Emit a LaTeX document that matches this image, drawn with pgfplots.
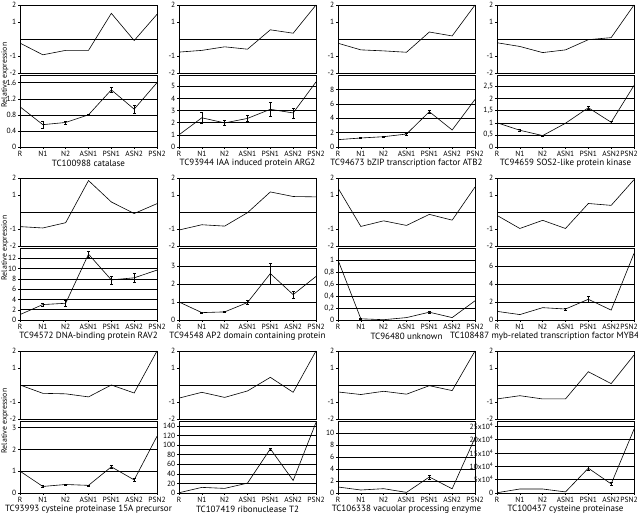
\documentclass[border=0pt]{standalone}
\usepackage{fontspec}
\setmainfont{PT Sans}
\usepackage{pgfplots}
\pgfplotsset{compat=1.18}
\pgfplotsset{
  base/.style={scale only axis, width=137pt, xmin=0, xmax=6, anchor=north west,
    axis line style={black, line width=0.5pt},
    tick style={black, line width=0.4pt}, tick align=outside, major tick length=2pt,
    ytick pos=left, xtick pos=bottom,
    every tick label/.append style={font=\fontsize{7.5}{8}\selectfont, inner sep=1.5pt},
    grid style={black, line width=0.45pt}},
  upper/.style={base, height=68pt, ymin=-2, ymax=2, ytick={-2,-1,1,2}, yticklabels={-2,-1,1,2},
    xtick=\empty, extra y ticks={0}, extra y tick labels={},
    extra y tick style={grid=major, major tick length=0pt}},
  lower/.style={base, height=72pt, ymin=0, xtick={0,...,6},
    xticklabels={R,N1,N2,ASN1,PSN1,ASN2,PSN2}, ymajorgrids,
    xlabel style={font=\fontsize{9}{10}\selectfont, at={(axis description cs:0.5,0)}, anchor=center, yshift=-16pt}},
  dataline/.style={black, line width=0.6pt, mark=none},
  errs/.style={draw=none, mark=none, forget plot, error bars/.cd, y dir=both, y explicit,
    error bar style={black, line width=0.5pt},
    error mark options={black, rotate=90, mark size=1.4pt, line width=0.5pt}},
  lastcol/.style={xticklabels={R,N1,N2,ASN1,PSN1,ASN2,\makebox[0pt]{\kern-10pt PSN2}}},
}
\newcommand{\panel}[7]{%
  \begin{axis}[upper, at={(#1pt,#2pt)}]
    \addplot[dataline] coordinates {#3};
  \end{axis}
  \begin{axis}[lower, at={(#1pt,#2pt-70pt)}, #6, xlabel={#7}]
    \addplot[dataline] coordinates {#4};
    \addplot[errs] coordinates {#5};
  \end{axis}}
\begin{document}
\begin{tikzpicture}
\path[use as bounding box] (0pt,0pt) rectangle (638pt,514pt);
% Row 1
\panel{20}{509}
 {(0,-0.24) (1,-0.93) (2,-0.67) (3,-0.67) (4,1.51) (5,-0.09) (6,1.45)}
 {(0,1.0) (1,0.555) (2,0.61) (3,0.80) (4,1.42) (5,0.94) (6,1.6)}
 {(1,0.555) +- (0,0.09) (2,0.61) +- (0,0.04) (3,0.80) +- (0,0.02) (4,1.42) +- (0,0.07) (5,0.94) +- (0,0.1)}
 {ymax=1.79, ytick={0,0.4,0.8,1.2,1.6}, yticklabels={0,0.4,0.8,1.2,1.6}}
 {TC100988 catalase}
\panel{179}{509}
 {(0,-0.77) (1,-0.67) (2,-0.46) (3,-0.6) (4,0.54) (5,0.34) (6,2.0)}
 {(0,1.0) (1,2.4) (2,1.98) (3,2.35) (4,3.1) (5,2.8) (6,5.35)}
 {(1,2.4) +- (0,0.45) (2,1.98) +- (0,0.2) (3,2.35) +- (0,0.25) (4,3.1) +- (0,0.6) (5,2.8) +- (0,0.4)}
 {ymax=5.92, ytick={0,1,2,3,4,5}, yticklabels={0,1,2,3,4,5}}
 {TC93944 IAA induced protein ARG2}
\panel{338}{509}
 {(0,-0.25) (1,-0.64) (2,-0.7) (3,-0.78) (4,0.41) (5,0.18) (6,2.0)}
 {(0,1.02) (1,1.25) (2,1.43) (3,1.8) (4,4.9) (5,2.36) (6,6.6)}
 {(1,1.25) +- (0,0.1) (2,1.43) +- (0,0.1) (3,1.8) +- (0,0.1) (4,4.9) +- (0,0.15)}
 {ymax=10, ytick={0,2,4,6,8}, yticklabels={0,2,4,6,8}}
 {TC94673 bZIP transcription factor ATB2}
\panel{497}{509}
 {(0,-0.22) (1,-0.44) (2,-0.8) (3,-0.64) (4,-0.04) (5,0.08) (6,2.0)}
 {(0,1.0) (1,0.69) (2,0.47) (3,0.98) (4,1.62) (5,1.02) (6,2.54)}
 {(1,0.69) +- (0,0.03) (2,0.47) +- (0,0.03) (3,0.98) +- (0,0.02) (4,1.62) +- (0,0.07) (5,1.02) +- (0,0.05)}
 {lastcol, ymax=2.97, ytick={0,0.5,1,1.5,2,2.5}, yticklabels={0,{0,5},1,{1,5},2,{2,5}}}
 {TC94659 SOS2-like protein kinase}
% Row 2
\panel{20}{336}
 {(0,-0.86) (1,-0.94) (2,-0.63) (3,1.85) (4,0.59) (5,-0.09) (6,0.49)}
 {(0,1.05) (1,3.0) (2,3.25) (3,12.8) (4,7.8) (5,8.2) (6,9.7)}
 {(1,3.0) +- (0,0.3) (2,3.25) +- (0,0.5) (3,12.8) +- (0,0.6) (4,7.8) +- (0,0.8) (5,8.2) +- (0,0.8)}
 {ymax=14, ytick={0,2,4,6,8,10,12}, yticklabels={0,2,4,6,8,10,12}}
 {TC94572 DNA-binding protein RAV2}
\panel{179}{336}
 {(0,-1.06) (1,-0.75) (2,-0.83) (3,-0.04) (4,1.18) (5,0.91) (6,0.89)}
 {(0,1.0) (1,0.41) (2,0.45) (3,0.97) (4,2.58) (5,1.41) (6,2.42)}
 {(1,0.41) +- (0,0.03) (2,0.45) +- (0,0.03) (3,0.97) +- (0,0.1) (4,2.58) +- (0,0.6) (5,1.41) +- (0,0.2)}
 {ymax=4, ytick={0,1,2,3}, yticklabels={0,1,2,3}}
 {TC94548 AP2 domain containing protein}
\panel{338}{336}
 {(0,1.41) (1,-0.85) (2,-0.52) (3,-0.79) (4,-0.14) (5,-0.48) (6,1.47)}
 {(0,1.0) (1,0.02) (2,0.005) (3,0.04) (4,0.13) (5,0.04) (6,0.32)}
 {(1,0.02) +- (0,0.01) (4,0.13) +- (0,0.02)}
 {ymax=1.2, ytick={0,0.2,0.4,0.6,0.8,1}, yticklabels={0,{0,2},{0,4},{0,6},{0,8},1}}
 {TC96480 unknown}
\panel{497}{336}
 {(0,-0.2) (1,-0.97) (2,-0.49) (3,-0.97) (4,0.5) (5,0.39) (6,1.9)}
 {(0,0.96) (1,0.6) (2,1.37) (3,1.22) (4,2.3) (5,1.1) (6,7.4)}
 {(3,1.22) +- (0,0.1) (4,2.3) +- (0,0.3)}
 {lastcol, ymax=8, ytick={0,2,4,6}, yticklabels={0,2,4,6}, xlabel style={xshift=-21pt}}
 {TC108487 myb-related transcription factor MYB4}
% Row 3
\panel{20}{163}
 {(0,0.0) (1,-0.49) (2,-0.52) (3,-0.7) (4,0.0) (5,-0.47) (6,2.0)}
 {(0,1.0) (1,0.3) (2,0.39) (3,0.35) (4,1.2) (5,0.6) (6,2.6)}
 {(1,0.3) +- (0,0.04) (2,0.39) +- (0,0.03) (3,0.35) +- (0,0.02) (4,1.2) +- (0,0.08) (5,0.6) +- (0,0.08)}
 {ymax=3.3, ytick={0,1,2,3}, yticklabels={0,1,2,3}}
 {TC93993 cysteine proteinase 15A precursor}
\panel{179}{163}
 {(0,-0.77) (1,-0.43) (2,-0.73) (3,-0.35) (4,0.45) (5,-0.43) (6,2.0)}
 {(0,0.5) (1,11.7) (2,9.6) (3,20.6) (4,92) (5,26) (6,147)}
 {(4,92) +- (0,2)}
 {ymax=150, ytick={0,20,40,60,80,100,120,140}, yticklabels={0,20,40,60,80,100,120,140}}
 {TC107419 ribonuclease T2}
\panel{338}{163}
 {(0,-0.41) (1,-0.56) (2,-0.37) (3,-0.54) (4,-0.04) (5,-0.33) (6,2.0)}
 {(0,1.0) (1,0.5) (2,0.72) (3,0.1) (4,2.67) (5,0.7) (6,9.2)}
 {(4,2.67) +- (0,0.3)}
 {ymax=12, ytick={0,2,4,6,8,10}, yticklabels={0,2,4,6,8,10}}
 {TC106338 vacuolar processing enzyme}
\panel{497}{163}
 {(0,-0.82) (1,-0.63) (2,-0.82) (3,-0.82) (4,0.78) (5,0.08) (6,1.76)}
 {(0,0.1) (1,1.5) (2,1.5) (3,0.4) (4,9.3) (5,3.4) (6,23.9)}
 {(4,9.3) +- (0,0.8) (5,3.4) +- (0,0.5)}
 {lastcol, ymax=27, ytick={0,5,10,15,20,25}, yticklabels={0,5x10\textsuperscript{4},10x10\textsuperscript{4},15x10\textsuperscript{4},20x10\textsuperscript{4},25x10\textsuperscript{4}}}
 {TC100437 cysteine proteinase}
% y labels
\foreach \yy in {439,266,93} {
  \node[rotate=90, font=\fontsize{7.8}{9}\selectfont] at (4.8pt,\yy pt) {Relative expression};
}
\end{tikzpicture}
\end{document}
